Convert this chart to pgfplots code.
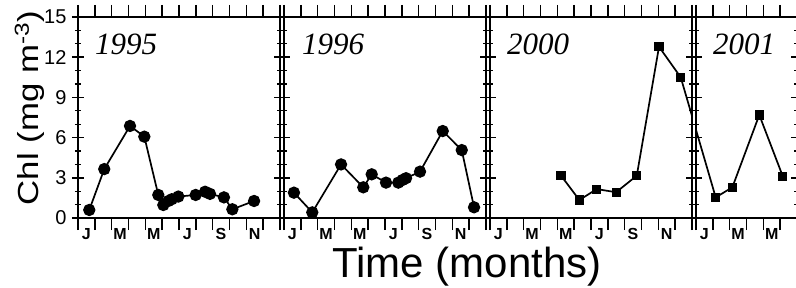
\documentclass[border=0pt]{standalone}
\usepackage{fontspec}
\setmainfont{Liberation Sans}
\newfontfamily\tnr{Liberation Serif}
\usepackage{pgfplots}
\pgfplotsset{compat=1.18}
\begin{document}
\begin{tikzpicture}
\useasboundingbox (0,0) rectangle (796pt,287pt);
\pgfplotsset{
  panel/.style={
    scale only axis, height=201pt, ymin=0, ymax=15, xmin=0,
    axis line style={line width=1.8pt},
    ytick={0,3,...,15}, minor ytick={0,1,...,15},
    ytick align=center, xtick align=outside,
    major tick length=12pt, minor tick length=6pt,
    every tick/.style={black, line width=1.4pt},
    minor tick style={black, line width=1.2pt},
    xticklabel style={font=\bfseries\fontsize{16}{16}\selectfont, xshift=8.4pt, yshift=5pt},
    yticklabel style={font=\fontsize{20}{20}\selectfont, xshift=-2pt},
    clip=true,
  },
  ln/.style={black, line width=1.7pt},
}
% 1995
\begin{axis}[panel, at={(78pt,69pt)}, anchor=south west, width=202pt, xmax=12,
  xtick={0,...,12}, xticklabels={J,,M,,M,,J,,S,,N,,},
  yticklabels={0,3,6,9,12,15}]
\addplot[ln, mark=*, mark size=5.3pt] coordinates {
(0.67,0.6) (1.56,3.65) (3.09,6.87) (3.94,6.07) (4.77,1.72) (5.07,0.97) (5.37,1.27) (5.57,1.4) (5.96,1.6) (6.99,1.72) (7.55,1.96) (7.84,1.8) (8.67,1.54) (9.17,0.65) (10.46,1.27)};
\end{axis}
% 1996
\begin{axis}[panel, at={(284pt,69pt)}, anchor=south west, width=202pt, xmax=12,
  xtick={0,...,12}, xticklabels={J,,M,,M,,J,,S,,N,,},
  yticklabels={}]
\addplot[ln, mark=*, mark size=5.3pt] coordinates {
(0.59,1.89) (1.68,0.42) (3.39,4.0) (4.71,2.29) (5.21,3.26) (6.06,2.64) (6.79,2.64) (7.05,2.84) (7.25,2.97) (8.08,3.46) (9.43,6.49) (10.56,5.07) (11.29,0.8)};
\end{axis}
% 2000
\begin{axis}[panel, at={(490pt,69pt)}, anchor=south west, width=202pt, xmax=12,
  xtick={0,...,12}, xticklabels={J,,M,,M,,J,,S,,N,,},
  yticklabels={}]
\addplot[ln, mark=square*, mark size=3.7pt] coordinates {
(4.22,3.16) (5.31,1.34) (6.34,2.16) (7.49,1.92) (8.72,3.16) (10.04,12.78) (11.33,10.5)};
\addplot[ln, no marks] coordinates {(11.33,10.5) (13.41,1.54)};
\end{axis}
% 2001
\begin{axis}[panel, at={(696pt,69pt)}, anchor=south west, width=101pt, xmax=6,
  xtick={0,...,6}, xticklabels={J,,M,,M,,},
  yticklabels={}]
\addplot[ln, mark=square*, mark size=3.7pt] coordinates {
(1.17,1.54) (2.16,2.29) (3.76,7.69) (5.15,3.13)};
\addplot[ln, no marks] coordinates {(-0.91,10.5) (1.17,1.54)};
\end{axis}
\begin{scope}[every node/.style={anchor=base west, inner sep=0pt, font=\tnr\itshape\fontsize{31}{31}\selectfont}]
\node at (95pt,232pt) {1995};
\node at (302pt,232pt) {1996};
\node at (507pt,232pt) {2000};
\node at (713pt,232pt) {2001};
\end{scope}
\node[anchor=base, inner sep=0pt, font=\fontsize{42}{42}\selectfont] at (467pt,9.5pt) {Time (months)};
\node[anchor=base, inner sep=0pt, rotate=90, xscale=1.2, font=\fontsize{29}{29}\selectfont] at (38pt,179pt) {Chl (mg m\textsuperscript{-3})};
\end{tikzpicture}
\end{document}
